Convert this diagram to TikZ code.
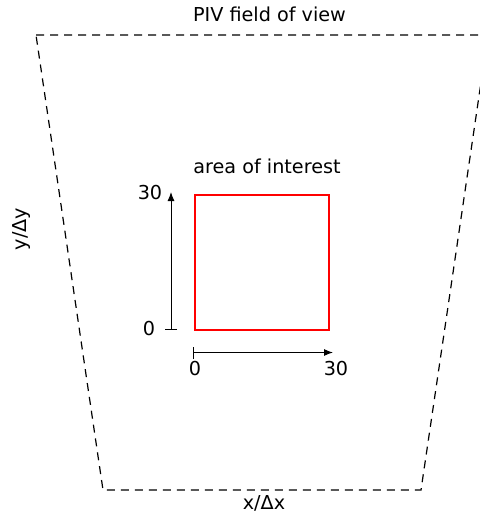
\documentclass[tikz,border=0pt]{standalone}
\usepackage{fontspec}
\setmainfont{DejaVu Sans}
\usetikzlibrary{arrows.meta,positioning}
\tikzset{
  fovline/.style={draw=black,line width=0.6pt,dash pattern=on 4pt off 3pt},
  aoibox/.style={draw=red,line width=0.6pt,minimum width=67pt,minimum height=67.5pt,inner sep=0pt},
  axisarrow/.style={{Bar[width=6pt]}-{Latex[length=4.5pt,width=3.5pt]},line width=0.5pt},
  lbl/.style={font=\fontsize{9.6}{11}\selectfont,inner sep=1pt}
}

\begin{document}
\begin{tikzpicture}[x=0.5pt,y=-0.5pt]
  \useasboundingbox (0,0) rectangle (480,514);
  % field of view
  \coordinate (fovtl) at (36,35);
  \coordinate (fovtr) at (488,35);
  \coordinate (fovbr) at (421,490);
  \coordinate (fovbl) at (103,490);
  \draw[fovline] (fovtl) -- (fovtr) -- (fovbr) -- (fovbl) -- cycle;
  \node[lbl] (fovtitle) at (269.5,14) {PIV field of view};
  \node[lbl] (xlabel) at (264,503) {x/Δx};
  \node[lbl,rotate=90] (ylabel) at (21,229) {y/Δy};
  % area of interest
  \node[aoibox] (aoi) at (262,262.5) {};
  \node[lbl] (aoititle) at (267,166) {area of interest};
  % axes
  \coordinate (ystart) at (171,330);
  \coordinate (yend) at (171,192);
  \coordinate (xstart) at (193,352.5);
  \coordinate (xend) at (333,352.5);
  \draw[axisarrow] (ystart) -- (yend);
  \draw[axisarrow] (xstart) -- (xend);
  \node[lbl] (ymax) at (150,193) {30};
  \node[lbl] (ymin) at (149,329) {0};
  \node[lbl] (xmin) at (195,369) {0};
  \node[lbl] (xmax) at (336,369) {30};
\end{tikzpicture}
\end{document}
